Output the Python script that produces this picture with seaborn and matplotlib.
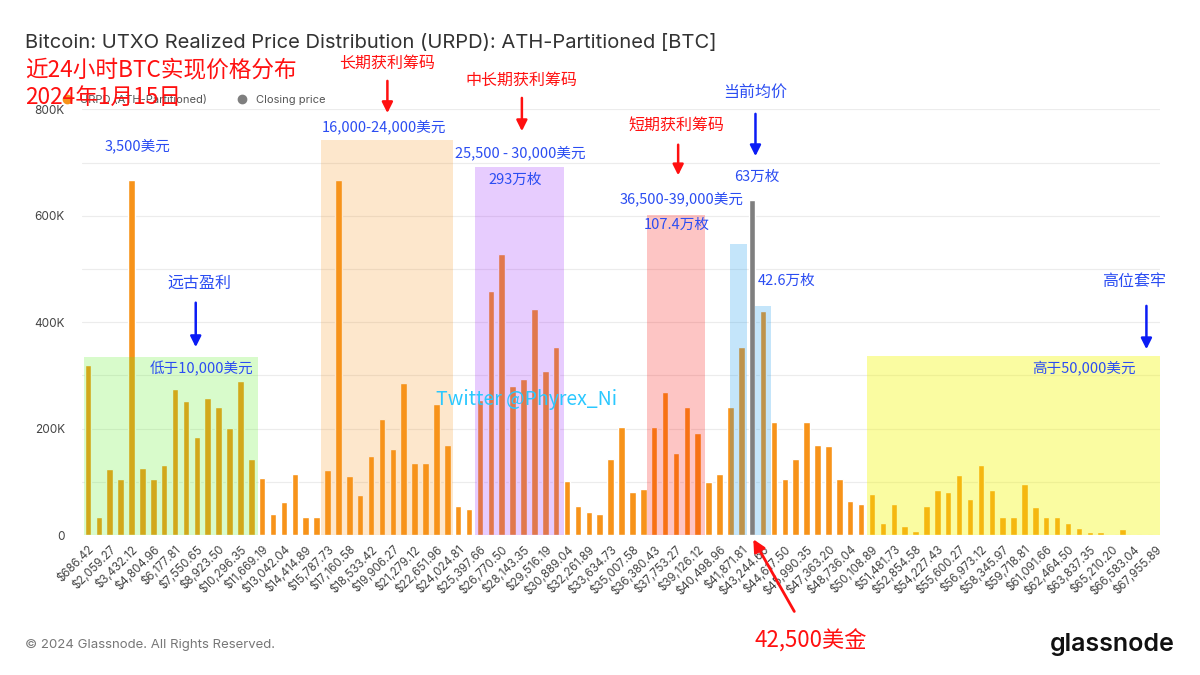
import numpy as np
import pandas as pd
import matplotlib
matplotlib.use("Agg")
import matplotlib.pyplot as plt
from matplotlib.lines import Line2D
import seaborn as sns

# supply held in each price bucket (thousand BTC), 99 buckets up to the ATH
supply_k = [320, 33, 124, 105, 667, 126, 106, 132, 274, 252,
            185, 258, 241, 201, 289, 143, 107, 39, 62, 115,
            33, 34, 122, 667, 111, 76, 149, 219, 161, 285,
            135, 135, 246, 170, 55, 48, 254, 459, 528, 281,
            293, 424, 309, 354, 102, 54, 44, 39, 143, 203,
            80, 87, 203, 268, 155, 241, 191, 100, 115, 241,
            353, 630, 422, 213, 106, 143, 213, 170, 168, 106,
            64, 58, 78, 23, 59, 16, 8, 55, 85, 80,
            113, 67, 132, 84, 34, 34, 96, 53, 34, 33,
            23, 14, 6, 6, 1, 12, 1, 2, 2]
closing_bin = 61  # bucket holding the closing price

# x tick labels (every second bucket)
price_labels = ["$686.42", "$2,059.27", "$3,432.12", "$4,804.96", "$6,177.81",
                "$7,550.65", "$8,923.50", "$10,296.35", "$11,669.19", "$13,042.04",
                "$14,414.89", "$15,787.73", "$17,160.58", "$18,533.42", "$19,906.27",
                "$21,279.12", "$22,651.96", "$24,024.81", "$25,397.66", "$26,770.50",
                "$28,143.35", "$29,516.19", "$30,889.04", "$32,261.89", "$33,634.73",
                "$35,007.58", "$36,380.43", "$37,753.27", "$39,126.12", "$40,498.96",
                "$41,871.81", "$43,244.66", "$44,617.50", "$45,990.35", "$47,363.20",
                "$48,736.04", "$50,108.89", "$51,481.73", "$52,854.58", "$54,227.43",
                "$55,600.27", "$56,973.12", "$58,345.97", "$59,718.81", "$61,091.66",
                "$62,464.50", "$63,837.35", "$65,210.20", "$66,583.04", "$67,955.89"]
ytick_values = [0, 200000, 400000, 600000, 800000]
ytick_labels = ["0", "200K", "400K", "600K", "800K"]

ORANGE = "#f7931a"
GRAY = "#7f7f7f"
BLUE_TXT = "#2b4df2"
BLUE_ARR = "#0b1cf5"
RED = "#ff1010"

sns.set_theme(style="white")
plt.rcParams['font.family'] = ['Inter', 'Noto Sans CJK SC', 'DejaVu Sans']

fig = plt.figure(figsize=(12, 6.75), dpi=100)
ax = fig.add_axes([0.068, 0.2074, 0.8986, 0.6304])

df = pd.DataFrame({'bin': np.arange(len(supply_k)),
                   'supply': np.array(supply_k) * 1000})
df['series'] = np.where(df['bin'] == closing_bin, 'Closing price', 'URPD (ATH-Partitioned)')

sns.barplot(data=df, x='bin', y='supply', hue='series',
            palette={'URPD (ATH-Partitioned)': ORANGE, 'Closing price': GRAY},
            dodge=False, width=0.6, saturation=1, legend=False, ax=ax, zorder=2)

# highlighted zones (bucket span, top, colour, alpha)
zones = [(-0.37, 15.6, 335000, "#5af221", 0.23),
         (21.4, 33.5, 742000, ORANGE, 0.22),
         (35.5, 43.7, 691000, "#971dfb", 0.225),
         (51.3, 56.7, 601000, "#fa0d09", 0.24),
         (59.0, 60.5, 548000, "#0c96ed", 0.24),
         (61.3, 62.7, 430000, "#0c96ed", 0.24),
         (71.5, 98.44, 336000, "#f4f700", 0.37)]
for x0, x1, top, c, a in zones:
    ax.fill_between([x0, x1], 0, top, color=c, alpha=a, lw=0, zorder=3)

ax.set_xlim(-0.58, 98.44)
ax.set_ylim(0, 800000)
ax.set_xticks(np.arange(0, len(supply_k), 2))
ax.set_xticklabels(price_labels, rotation=45, ha='right', rotation_mode='anchor',
                   fontsize=8.3, color='#444444')
ax.set_yticks(ytick_values)
ax.set_yticklabels(ytick_labels, fontsize=8.5, color='#444444')
ax.set_yticks(np.arange(0, 800001, 100000), minor=True)
ax.tick_params(axis='both', length=0)
ax.tick_params(axis='y', pad=12)
ax.tick_params(axis='x', pad=6)
ax.grid(axis='y', which='both', color='#ececec', lw=0.8)
ax.set_axisbelow(True)
ax.set_xlabel('')
ax.set_ylabel('')
for s in ax.spines.values():
    s.set_visible(False)


def note(txt, x, y, color=BLUE_TXT, size=10.5, **kw):
    ax.text(x, y, txt, color=color, fontsize=size, ha='center', va='center',
            clip_on=False, zorder=5, family=['Noto Sans CJK SC', 'DejaVu Sans'], **kw)


def arrow(x, y0, y1, color):
    ax.annotate('', xy=(x, y1), xytext=(x, y0), annotation_clip=False,
                arrowprops=dict(arrowstyle='-|>', color=color, lw=1.8, mutation_scale=16),
                zorder=5)


note("3,500美元", 4.6, 731000)
note("远古盈利", 10.2, 474000, size=11.5)
arrow(9.9, 442000, 348000, BLUE_ARR)
note("低于10,000美元", 10.4, 312000)

note("长期获利筹码", 27.5, 886000, color=RED, size=11.5)
arrow(27.5, 859000, 788000, RED)
note("16,000-24,000美元", 27.2, 767000)

note("中长期获利筹码", 39.85, 855000, color=RED, size=11.5)
arrow(39.85, 827000, 754000, RED)
note("25,500 - 30,000美元", 39.7, 718000)
note("293万枚", 39.2, 667000)

note("短期获利筹码", 54.0, 771000, color=RED, size=11.5)
arrow(54.2, 739000, 671000, RED)
note("36,500-39,000美元", 54.5, 632000)
note("107.4万枚", 54.1, 583000)

note("当前均价", 61.3, 833000, size=11.5)
arrow(61.3, 797000, 707000, BLUE_ARR)
note("63万枚", 61.4, 673000)
note("42.6万枚", 64.2, 477000)

note("高位套牢", 96.1, 477000, size=11.5)
arrow(97.2, 436000, 344000, BLUE_ARR)
note("高于50,000美元", 91.5, 312000)

note("Twitter @Phyrex_Ni", 40.3, 254000, color="#2ac8ff", size=14)

ax.annotate('42,500美金', xy=(61.1, -8000), xytext=(66.4, -199000),
            color=RED, fontsize=16, ha='center', va='center', annotation_clip=False,
            family=['Noto Sans CJK SC', 'DejaVu Sans'],
            arrowprops=dict(arrowstyle='-|>', color=RED, lw=2, mutation_scale=18,
                            shrinkA=12, shrinkB=0))

# legend row (partly covered by the red headline, as in the source)
handles = [Line2D([], [], marker='o', ls='', color=ORANGE, markersize=6,
                  label='URPD (ATH-Partitioned)'),
           Line2D([], [], marker='o', ls='', color=GRAY, markersize=6,
                  label='Closing price')]
fig.legend(handles=handles, loc='center left', bbox_to_anchor=(50 / 1200, 1 - 100 / 675),
           ncol=2, frameon=False, fontsize=8, handletextpad=0.2, columnspacing=2.2,
           borderpad=0, labelcolor='#555555')

fig.text(25 / 1200, 1 - 43 / 675,
         "Bitcoin: UTXO Realized Price Distribution (URPD): ATH-Partitioned [BTC]",
         fontsize=14.5, color='#333333', ha='left', va='center')
fig.text(25 / 1200, 1 - 70 / 675, "近24小时BTC实现价格分布", fontsize=16.3, color=RED,
         ha='left', va='center', family=['Noto Sans CJK SC', 'DejaVu Sans'], zorder=10)
fig.text(25 / 1200, 1 - 97 / 675, "2024年1月15日", fontsize=16.3, color=RED,
         ha='left', va='center', family=['Noto Sans CJK SC', 'DejaVu Sans'], zorder=10)

fig.text(25 / 1200, 1 - 645 / 675, "© 2024 Glassnode. All Rights Reserved.",
         fontsize=9.5, color='#777777', ha='left', va='center')
fig.text(1175 / 1200, 1 - 645 / 675, "glassnode", fontsize=18, fontweight='semibold',
         color='#111111', ha='right', va='center')

fig.savefig("out.png", dpi=100)
